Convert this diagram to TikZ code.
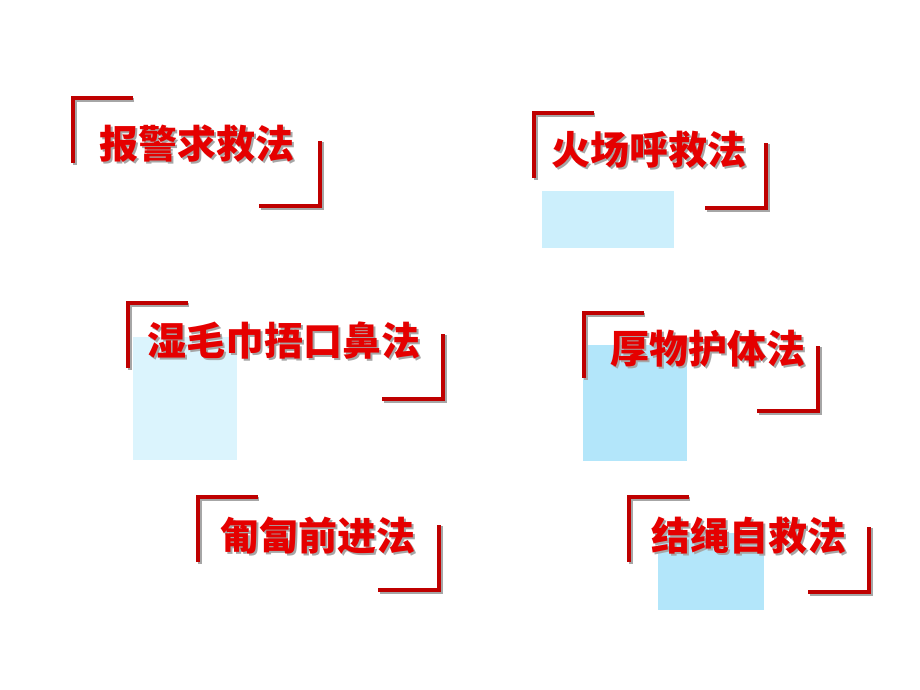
\documentclass[tikz,border=0pt]{standalone}
\usepackage{fontspec}
\newfontfamily\cjk{Noto Sans CJK SC}
\begin{document}
\begin{tikzpicture}[x=1pt,y=-1pt,
  bracketline/.style={draw=red!75!black,line width=3.6pt},
  bracketshadow/.style={draw=black!35,line width=3.6pt},
  title/.style={font=\cjk\bfseries\fontsize{39}{39}\selectfont,text=red!90!black,inner sep=0pt,anchor=base},
  titleshadow/.style={font=\cjk\bfseries\fontsize{39}{39}\selectfont,text=black!35,inner sep=0pt,anchor=base},
  palecyan/.style={fill=cyan!14,draw=none},
  lightcyan/.style={fill=cyan!20,draw=none},
  midcyan/.style={fill=cyan!30,draw=none}
]
\useasboundingbox[fill=white] (0,0) rectangle (920,690);
% cyan panels
\fill[lightcyan] (542,191) rectangle (674,248);
\fill[palecyan] (133,337) rectangle (237,460);
\fill[midcyan] (583,345) rectangle (687,461);
\fill[midcyan] (658,533) rectangle (764,610);
% brackets: \brk{x1}{y1}{x2}{y2} top-left corner at (x1,y1), bottom-right at (x2,y2)
\foreach \a/\b/\c/\d in {73/98/320/206, 534/113/766/208, 128/303/443/399, 584/313/818/411, 198/497/439/590, 629/497/869/592}{
  \draw[bracketshadow] (\a+61,\b+2) -- (\a+2,\b+2) -- (\a+2,\b+67);
  \draw[bracketshadow] (\c+2,\d-64) -- (\c+2,\d+2) -- (\c-59,\d+2);
  \draw[bracketline] (\a+60,\b) -- (\a,\b) -- (\a,\b+65);
  \draw[bracketline] (\c,\d-65) -- (\c,\d) -- (\c-61,\d);
}
% titles
\node[titleshadow] (s1) at (198.5,160) {报警求救法};
\node[title] (t1) at (196.5,158) {报警求救法};
\node[titleshadow] (s2) at (651,166) {火场呼救法};
\node[title] (t2) at (649,164) {火场呼救法};
\node[titleshadow] (s3) at (286,357) {湿毛巾捂口鼻法};
\node[title] (t3) at (284,355) {湿毛巾捂口鼻法};
\node[titleshadow] (s4) at (709.5,365) {厚物护体法};
\node[title] (t4) at (707.5,363) {厚物护体法};
\node[titleshadow] (s5) at (319.5,552) {匍匐前进法};
\node[title] (t5) at (317.5,550) {匍匐前进法};
\node[titleshadow] (s6) at (751,552) {结绳自救法};
\node[title] (t6) at (749,550) {结绳自救法};
\end{tikzpicture}
\end{document}
